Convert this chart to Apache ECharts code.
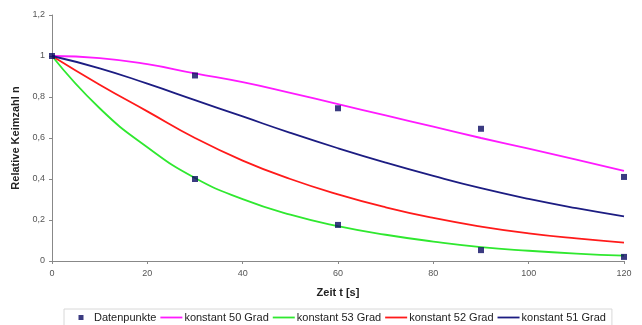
<!DOCTYPE html>
<html>
<head>
<meta charset="utf-8">
<script src="https://cdn.jsdelivr.net/npm/echarts@6/dist/echarts.min.js"></script>
<style>
  html, body { margin: 0; padding: 0; background: #fff; }
  #chart { width: 642px; height: 325px; }
</style>
</head>
<body>
<div id="chart"></div>
<script>
// Zeitpunkte (s)
const zeit = [0, 10, 20, 30, 40, 50, 60, 70, 80, 90, 100, 110, 120]
// Messpunkte
const datenpunkte = [
    [0, 1], [30, 0.905], [60, 0.745], [90, 0.645], [120, 0.41],
    [30, 0.40], [60, 0.176], [90, 0.053], [120, 0.02]
]
// Modellkurven
const grad50 = [1, 0.99, 0.96, 0.915, 0.872, 0.82, 0.765, 0.71, 0.655, 0.60, 0.548, 0.495, 0.44]
const grad53 = [1, 0.745, 0.555, 0.405, 0.302, 0.226, 0.17, 0.128, 0.095, 0.068, 0.05, 0.036, 0.026]
const grad52 = [1, 0.86, 0.73, 0.60, 0.49, 0.40, 0.325, 0.262, 0.21, 0.168, 0.135, 0.11, 0.09]
const grad51 = [1, 0.94, 0.865, 0.785, 0.705, 0.625, 0.55, 0.48, 0.415, 0.355, 0.303, 0.258, 0.218]

const pairs = arr => zeit.map((t, i) => [t, arr[i]])

let myChart = echarts.init(document.getElementById('chart'))

function lineSeries (name, data, color) {
    return {
        name: name,
        type: 'line',
        data: pairs(data),
        smooth: true,
        symbol: 'none',
        lineStyle: { color: color, width: 1.8 },
        itemStyle: { color: color },
        z: 2
    }
}

// Legendensymbole im 22x5 Feld
const quadrat = 'path://M0,0L0,0M22,5L22,5M8.5,0h5v5h-5z'
const strich = 'path://M0,0L0,0M22,5L22,5M0,1.6h22v1.8h-22z'

myChart.setOption({
    animation: false,
    textStyle: { fontFamily: 'Liberation Sans, Arial, sans-serif' },
    grid: { left: 52, right: 18, top: 15, bottom: 64 },
    legend: {
        left: 64,
        top: 309,
        itemWidth: 22,
        itemHeight: 5,
        itemGap: 4,
        padding: [3, 6, 3, 6],
        borderColor: '#d8d8d8',
        borderWidth: 1,
        textStyle: { fontSize: 11, color: '#222', padding: [0, 0, 0, -3] },
        data: [
            { name: 'Datenpunkte', icon: quadrat },
            { name: 'konstant 50 Grad', icon: strich },
            { name: 'konstant 53 Grad', icon: strich },
            { name: 'konstant 52 Grad', icon: strich },
            { name: 'konstant 51 Grad', icon: strich }
        ]
    },
    xAxis: {
        type: 'value',
        min: 0,
        max: 120,
        interval: 20,
        name: 'Zeit t [s]',
        nameLocation: 'middle',
        nameGap: 26,
        nameTextStyle: { fontSize: 11, fontWeight: 'bold', color: '#222' },
        axisLine: { lineStyle: { color: '#888' } },
        axisTick: { show: true, length: 3, lineStyle: { color: '#888' } },
        axisLabel: { fontSize: 9, color: '#555', margin: 8 },
        splitLine: { show: false }
    },
    yAxis: {
        type: 'value',
        min: 0,
        max: 1.2,
        interval: 0.2,
        name: 'Relative Keimzahl n',
        nameLocation: 'middle',
        nameGap: 23,
        nameTextStyle: { fontSize: 11, fontWeight: 'bold', color: '#222' },
        axisLine: { show: true, lineStyle: { color: '#888' } },
        axisTick: { show: true, length: 3, lineStyle: { color: '#888' } },
        axisLabel: {
            fontSize: 9,
            color: '#555',
            margin: 7,
            formatter: v => String(Math.round(v * 10) / 10).replace('.', ',')
        },
        splitLine: { show: false }
    },
    series: [
        {
            name: 'Datenpunkte',
            type: 'scatter',
            data: datenpunkte,
            symbol: 'rect',
            symbolSize: 6,
            itemStyle: { color: '#0a0a62' },
            z: 5
        },
        lineSeries('konstant 50 Grad', grad50, '#ff1aff'),
        lineSeries('konstant 53 Grad', grad53, '#2fe82f'),
        lineSeries('konstant 52 Grad', grad52, '#ff1a1a'),
        lineSeries('konstant 51 Grad', grad51, '#1c1c82')
    ]
})
</script>
</body>
</html>
